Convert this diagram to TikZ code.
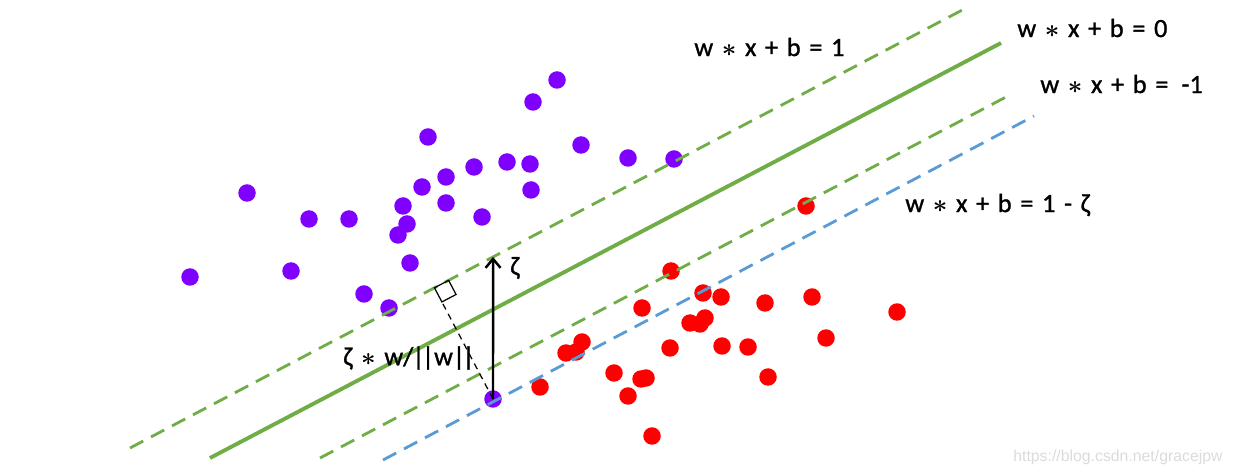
\documentclass[tikz,border=0pt]{standalone}
\usepackage{fontspec}
\setmainfont{Carlito}
\setsansfont{Liberation Sans}
\newfontfamily\eqnfont{Carlito}[FakeBold=1.1, WordSpace=1.45]
\usetikzlibrary{arrows.meta, calc}
\definecolor{svmgreen}{HTML}{70AD47}
\definecolor{svmblue}{HTML}{5B9BD5}
\definecolor{svmpurple}{HTML}{7F00FF}
\definecolor{svmred}{HTML}{FF0000}
\newcommand{\svmstar}{{\boldmath$\ast$}}
\tikzstyle{margin} = [svmgreen, 
line width=1.6pt, 
dash pattern=on 8.5pt off 5pt]
\tikzstyle{hyper} = [svmgreen, 
line width=2.2pt]
\tikzstyle{slack} = [svmblue, 
line width=1.6pt, 
dash pattern=on 8.5pt off 5pt]
\tikzstyle{pdot} = [circle, 
minimum size=0.35cm, 
inner sep=0pt, 
fill=svmpurple]
\tikzstyle{rdot} = [circle, 
minimum size=0.35cm, 
inner sep=0pt, 
fill=svmred]
\tikzstyle{eqn} = [anchor=west, 
inner sep=0pt, 
font=\eqnfont\fontsize{15}{17}\selectfont]
\tikzstyle{arrow} = [line width=1.4pt, -{Straight Barb[length=1.8mm, width=3mm]}]

\begin{document}
\begin{tikzpicture}[x=0.02cm, y=-0.02cm]
\useasboundingbox (0,0) rectangle (1233,475);

% purple class
\foreach \x/\y [count=\i] in {247/193, 309/219, 349/219, 190/277, 291/271, 364/294, 389/308,
  410/263, 398/235, 407/224, 403/206, 422/187, 446/177, 428/137, 474/167, 507/162,
  530/164, 531/190, 446/203, 482/217, 533/102, 557/80, 581/145, 628/158, 674/159}
  \node[pdot] (p\i) at (\x,\y) {};
\node[pdot] (xi) at (493,399) {};

% red class
\foreach \x/\y [count=\i] in {806/206, 671/271, 703/293, 721/297, 765/303, 812/297, 897/312,
  642/308, 705/318, 690/323, 700/324, 826/338, 582/342, 566/353, 576/352, 670/348,
  722/346, 748/347, 614/373, 646/378, 641/379, 768/377, 540/387, 628/396, 652/436}
  \node[rdot] (r\i) at (\x,\y) {};

% hyperplanes
\coordinate (m1a) at (130,448);
\coordinate (m1b) at (968,7);
\coordinate (h0a) at (210,458);
\coordinate (h0b) at (1001,43);
\coordinate (m2a) at (320,458);
\coordinate (m2b) at (1006,97);
\coordinate (sla) at (383,460);
\coordinate (slb) at (1034,116);
\draw [margin] (m1a) -- (m1b);
\draw [hyper] (h0a) -- (h0b);
\draw [margin] (m2a) -- (m2b);
\draw [slack] (sla) -- (slb);

% slack of the misplaced point
\coordinate (xitop) at (493,0);
\coordinate (foot) at ($(m1a)!(xi.center)!(m1b)$);
\coordinate (sqa) at ($(foot)!0.32cm!(m1b)$);
\coordinate (sqb) at ($(foot)!0.32cm!(xi.center)$);
\draw [black, line width=0.7pt, dash pattern=on 3.6pt off 2.8pt] (xi.center) -- (sqb);
\draw [black, line width=0.7pt] (foot) -- (sqa) -- ($(sqa)+(sqb)-(foot)$) -- (sqb) -- cycle;
\draw [arrow] (xi.center) -- (intersection of m1a--m1b and xi--xitop);

% labels
\node (lbl1) [eqn] at (694,47) {w \svmstar{} x + b = 1};
\node (lbl0) [eqn] at (1017,28) {w \svmstar{} x + b = 0};
\node (lblm1) [eqn] at (1040,84) {w \svmstar{} x + b = \,-1};
\node (lblxi) [eqn] at (905,205) {w \svmstar{} x + b = 1 - ζ};
\node (lblw) [eqn] at (343,358) {ζ \svmstar{} w/\kern-0.5pt|\kern-1.5pt|w|\kern-1.5pt|};
\node (lblz) [eqn] at (510,268) {ζ};

\node (mark) [anchor=west, inner sep=0pt, text=black!14, font=\sffamily\fontsize{9}{10}\selectfont] at (1013,457) {https://blog.csdn.net/gracejpw};
\end{tikzpicture}
\end{document}
